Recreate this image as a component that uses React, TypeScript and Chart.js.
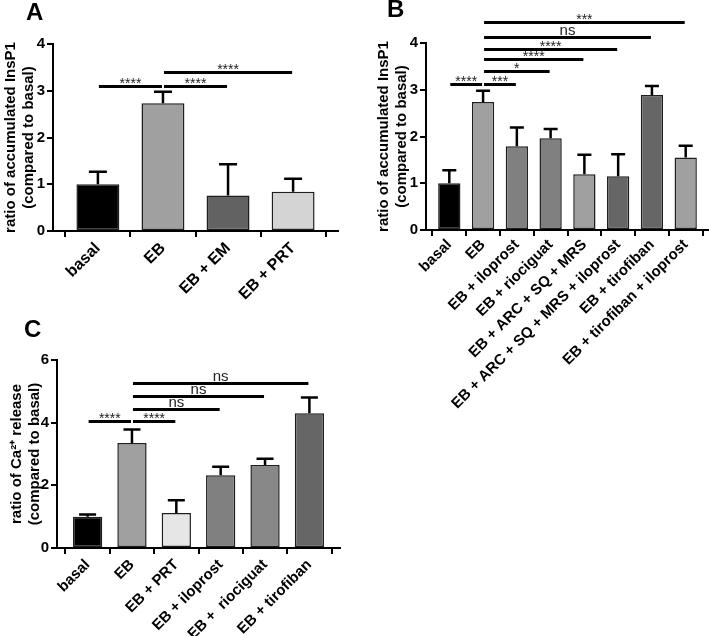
import React, { useEffect, useRef } from "react";
import { Chart, registerables } from "chart.js";

Chart.register(...registerables);

const FONT = "'Liberation Sans', Arial, Helvetica, sans-serif";

// ---------- Panel A data ----------
const labelsA = ["basal", "EB", "EB + EM", "EB + PRT"];
const meansA = [1.0, 2.73, 0.76, 0.84];
const semsA = [0.27, 0.25, 0.67, 0.28];
const colorsA = ["#000000", "#a0a0a0", "#626262", "#d4d4d4"];
// [from index, to index, y level, label]
const sigA: [number, number, number, string][] = [
  [0, 1, 3.1, "****"],
  [1, 2, 3.1, "****"],
  [1, 3, 3.41, "****"],
];

// ---------- Panel B data ----------
const labelsB = [
  "basal",
  "EB",
  "EB + iloprost",
  "EB + riociguat",
  "EB + ARC + SQ + MRS",
  "EB + ARC + SQ + MRS + iloprost",
  "EB + tirofiban",
  "EB + tirofiban + iloprost",
];
const meansB = [1.0, 2.74, 1.79, 1.96, 1.19, 1.15, 2.89, 1.55];
const semsB = [0.28, 0.24, 0.4, 0.2, 0.42, 0.47, 0.19, 0.25];
const colorsB = ["#000000", "#a0a0a0", "#808080", "#808080", "#a0a0a0", "#666666", "#666666", "#a0a0a0"];
const sigB: [number, number, number, string][] = [
  [0, 1, 3.13, "****"],
  [1, 2, 3.13, "***"],
  [1, 3, 3.41, "*"],
  [1, 4, 3.65, "****"],
  [1, 5, 3.88, "****"],
  [1, 6, 4.13, "ns"],
  [1, 7, 4.44, "***"],
];

// ---------- Panel C data ----------
const labelsC = ["basal", "EB", "EB + PRT", "EB + iloprost", "EB +  riociguat", "EB + tirofiban"];
const meansC = [1.0, 3.35, 1.12, 2.32, 2.65, 4.3];
const semsC = [0.07, 0.43, 0.4, 0.27, 0.2, 0.5];
const colorsC = ["#000000", "#a0a0a0", "#e6e6e6", "#808080", "#888888", "#666666"];
const sigC: [number, number, number, string][] = [
  [0, 1, 4.05, "****"],
  [1, 2, 4.05, "****"],
  [1, 3, 4.44, "ns"],
  [1, 4, 4.85, "ns"],
  [1, 5, 5.28, "ns"],
];

const yTitleInsP = ["ratio of accumulated InsP1", "(compared to basal)"];
const yTitleCa = ["ratio of Ca\u00B2\u207A release", "(compared to basal)"];

interface Layout {
  width: number;
  height: number;
  padTop: number;
  padRight: number;
  yW: number;
  xH: number;
  yMax: number;
  yStep: number;
  xFont: number;
  xPad: number;
  cap: number;
  titlePad: number;
}

function makeConfig(
  labels: string[],
  means: number[],
  sems: number[],
  colors: string[],
  sigs: [number, number, number, string][],
  yTitle: string[],
  L: Layout
): any {
  const errorBars = {
    id: "errorBars",
    afterDatasetsDraw(chart: any) {
      const ctx = chart.ctx;
      const ys = chart.scales.y;
      const meta = chart.getDatasetMeta(0);
      ctx.save();
      ctx.strokeStyle = "#000";
      ctx.lineWidth = 2.5;
      meta.data.forEach((el: any, i: number) => {
        const top = ys.getPixelForValue(means[i] + sems[i]);
        ctx.beginPath();
        ctx.moveTo(el.x, el.y);
        ctx.lineTo(el.x, top);
        ctx.moveTo(el.x - L.cap / 2, top);
        ctx.lineTo(el.x + L.cap / 2, top);
        ctx.stroke();
      });
      ctx.restore();
    },
  };
  const sigPlugin = {
    id: "sigBars",
    afterDraw(chart: any) {
      const ctx = chart.ctx;
      const xs = chart.scales.x;
      const ys = chart.scales.y;
      ctx.save();
      ctx.strokeStyle = "#000";
      ctx.lineWidth = 3;
      ctx.fillStyle = "#222";
      ctx.textAlign = "center";
      ctx.textBaseline = "alphabetic";
      sigs.forEach(([a, b, lvl, txt]) => {
        const x1 = xs.getPixelForValue(a) + 1;
        const x2 = xs.getPixelForValue(b) - 1;
        const y = Math.round(ys.getPixelForValue(lvl)) + 0.5;
        ctx.beginPath();
        ctx.moveTo(x1, y);
        ctx.lineTo(x2, y);
        ctx.stroke();
        if (txt === "ns") {
          ctx.font = `15px ${FONT}`;
          ctx.fillText(txt, (x1 + x2) / 2, y - 3);
        } else {
          ctx.font = `14px ${FONT}`;
          ctx.fillText(txt, (x1 + x2) / 2, y + 1);
        }
      });
      ctx.restore();
    },
  };
  const n = labels.length;
  return {
    type: "bar",
    data: {
      datasets: [
        {
          data: means.map((v, i) => ({ x: i, y: v })),
          backgroundColor: colors,
          borderColor: "#1e1e1e",
          borderWidth: 1.5,
          borderSkipped: false,
          barPercentage: 0.66,
          categoryPercentage: 1,
        },
      ],
    },
    options: {
      responsive: false,
      animation: false,
      devicePixelRatio: 1,
      layout: { padding: { top: L.padTop, right: L.padRight, left: 0, bottom: 0 } },
      plugins: { legend: { display: false }, tooltip: { enabled: false }, title: { display: false } },
      scales: {
        x: {
          type: "linear",
          min: -0.69,
          max: n - 1 + 0.69,
          offset: false,
          afterBuildTicks: (s: any) => {
            s.ticks = labels.map((_, i) => ({ value: i }));
          },
          afterFit: (s: any) => {
            s.height = L.xH;
          },
          ticks: {
            autoSkip: false,
            minRotation: 45,
            maxRotation: 45,
            padding: L.xPad,
            color: "#000",
            font: { family: FONT, size: L.xFont, weight: "bold" },
            callback: (v: any) => (labels[v] !== undefined ? labels[v] : ""),
          },
          grid: { display: true, drawOnChartArea: false, drawTicks: true, tickLength: 6, color: "#000", lineWidth: 2 },
          border: { display: true, color: "#000", width: 2 },
        },
        y: {
          min: 0,
          max: L.yMax,
          afterFit: (s: any) => {
            s.width = L.yW;
          },
          ticks: {
            stepSize: L.yStep,
            padding: 2,
            color: "#000",
            font: { family: FONT, size: 15, weight: "bold" },
          },
          grid: { display: true, drawOnChartArea: false, drawTicks: true, tickLength: 6, color: "#000", lineWidth: 2 },
          border: { display: true, color: "#000", width: 2 },
          title: {
            display: true,
            text: yTitle,
            color: "#000",
            font: { family: FONT, size: 15, weight: "bold", lineHeight: 1.2 },
            padding: { top: L.titlePad, bottom: 0 },
          },
        },
      },
    },
    plugins: [errorBars, sigPlugin],
  };
}

const layoutA: Layout = { width: 345, height: 305, padTop: 44, padRight: 7, yW: 53, xH: 74, yMax: 4, yStep: 1, xFont: 16, xPad: 2, cap: 18, titlePad: 2 };
const layoutB: Layout = { width: 337, height: 425, padTop: 43, padRight: 0, yW: 54, xH: 195, yMax: 4, yStep: 1, xFont: 15, xPad: 0, cap: 14, titlePad: 3 };
const layoutC: Layout = { width: 345, height: 326, padTop: 50, padRight: 5, yW: 57, xH: 88, yMax: 6, yStep: 2, xFont: 15, xPad: 2, cap: 17, titlePad: 8 };

export default function App() {
  const refA = useRef<HTMLCanvasElement | null>(null);
  const refB = useRef<HTMLCanvasElement | null>(null);
  const refC = useRef<HTMLCanvasElement | null>(null);

  useEffect(() => {
    const charts: Chart[] = [];
    if (refA.current) charts.push(new Chart(refA.current, makeConfig(labelsA, meansA, semsA, colorsA, sigA, yTitleInsP, layoutA)));
    if (refB.current) charts.push(new Chart(refB.current, makeConfig(labelsB, meansB, semsB, colorsB, sigB, yTitleInsP, layoutB)));
    if (refC.current) charts.push(new Chart(refC.current, makeConfig(labelsC, meansC, semsC, colorsC, sigC, yTitleCa, layoutC)));
    return () => charts.forEach((c) => c.destroy());
  }, []);

  const letter = (t: string, left: number, top: number) => (
    <div
      style={{
        position: "absolute",
        left,
        top,
        font: `bold 24px ${FONT}`,
        lineHeight: "24px",
        color: "#000",
      }}
    >
      {t}
    </div>
  );

  return (
    <div style={{ position: "absolute", left: 0, top: 0, width: 709, height: 636, background: "#fff", overflow: "hidden" }}>
      <canvas ref={refA} width={layoutA.width} height={layoutA.height} style={{ position: "absolute", left: 0, top: 0, width: layoutA.width, height: layoutA.height }} />
      <canvas ref={refB} width={layoutB.width} height={layoutB.height} style={{ position: "absolute", left: 372, top: 0, width: layoutB.width, height: layoutB.height }} />
      <canvas ref={refC} width={layoutC.width} height={layoutC.height} style={{ position: "absolute", left: 0, top: 310, width: layoutC.width, height: layoutC.height }} />
      {letter("A", 26, 0)}
      {letter("B", 387, -3)}
      {letter("C", 24, 317)}
    </div>
  );
}
